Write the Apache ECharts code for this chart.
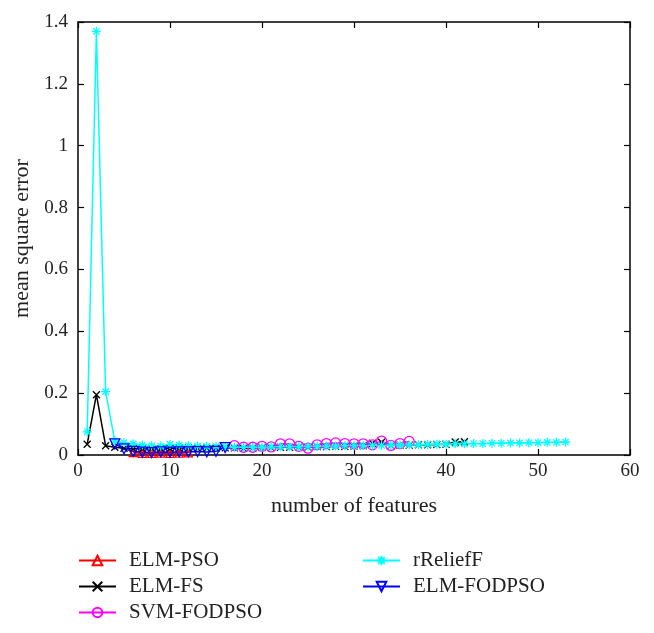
<!DOCTYPE html>
<html>
<head>
<meta charset="utf-8">
<style>html,body{margin:0;padding:0;background:#fff;}#c{width:654px;height:633px;}</style>
<script src="https://cdn.jsdelivr.net/npm/echarts@6/dist/echarts.min.js"></script>
</head>
<body>
<div id="c"></div>
<script>
// ---- data ----
const xTicks = [0, 10, 20, 30, 40, 50, 60];
const yTicks = [0, 0.2, 0.4, 0.6, 0.8, 1, 1.2, 1.4];

const elmPsoX = [6, 7, 8, 9, 10, 11, 12];
const elmPsoY = [0.008, 0.005, 0.005, 0.006, 0.005, 0.006, 0.007];

const elmFsX = [1,2,3,4,5,6,7,8,9,10,11,12,13,14,15,16,17,18,19,20,21,22,23,24,25,26,27,28,29,30,31,32,33,34,35,36,37,38,39,40,41,42];
const elmFsY = [0.035,0.195,0.03,0.025,0.022,0.02,0.02,0.021,0.02,0.021,0.022,0.022,0.021,0.022,0.022,0.023,0.023,0.022,0.023,0.024,0.024,0.025,0.025,0.026,0.026,0.027,0.027,0.028,0.028,0.029,0.03,0.038,0.041,0.031,0.032,0.032,0.033,0.033,0.034,0.035,0.042,0.043];

const svmX = [17,18,19,20,21,22,23,24,25,26,27,28,29,30,31,32,33,34,35,36];
const svmY = [0.03,0.025,0.025,0.028,0.026,0.036,0.036,0.028,0.022,0.033,0.037,0.039,0.037,0.036,0.036,0.033,0.045,0.031,0.037,0.044];

const reliefX = [1,2,3,4,5,6,7,8,9,10,11,12,13,14,15,16,17,18,19,20,21,22,23,24,25,26,27,28,29,30,31,32,33,34,35,36,37,38,39,40,41,42,43,44,45,46,47,48,49,50,51,52,53];
const reliefY = [0.075,1.37,0.205,0.045,0.04,0.036,0.032,0.03,0.029,0.034,0.032,0.03,0.029,0.028,0.028,0.027,0.025,0.025,0.025,0.025,0.026,0.027,0.027,0.027,0.028,0.028,0.029,0.029,0.03,0.03,0.03,0.031,0.031,0.032,0.032,0.033,0.033,0.034,0.035,0.035,0.036,0.036,0.037,0.037,0.038,0.038,0.039,0.039,0.04,0.04,0.041,0.041,0.042];

const fodpsoX = [4,5,6,7,8,9,10,11,12,13,14,15,16];
const fodpsoY = [0.036,0.02,0.012,0.009,0.008,0.01,0.009,0.01,0.01,0.011,0.01,0.012,0.024];

const seriesNames = ['ELM-PSO', 'ELM-FS', 'SVM-FODPSO', 'rReliefF', 'ELM-FODPSO'];
const xLabel = 'number of features';
const yLabel = 'mean square error';

// ---- chart ----
const FONT = '"Liberation Serif", "DejaVu Serif", serif';
const pair = (xs, ys) => xs.map((x, i) => [x, ys[i]]);

const SYM_X = 'path://M0,0L10,10M10,0L0,10';
const SYM_AST = 'path://M5,0L5,10M0,5L10,5M1.5,1.5L8.5,8.5M8.5,1.5L1.5,8.5';
const SYM_UP = 'path://M5,0L10,9L0,9Z';
const SYM_DOWN = 'path://M0,0L10,0L5,9Z';
const SYM_CIRC = 'path://M10,5A5,5,0,1,1,0,5A5,5,0,1,1,10,5Z';

function mk(name, data, color, symbol, size) {
  return {
    name: name, type: 'line', data: data,
    symbol: symbol, symbolSize: size, showAllSymbol: true,
    lineStyle: { color: color, width: 1.5 },
    itemStyle: { color: 'rgba(0,0,0,0)', borderColor: color, borderWidth: 1.3 },
    emphasis: { disabled: true },
    z: 2
  };
}

const chart = echarts.init(document.getElementById('c'), null, { renderer: 'canvas' });
const axisCommon = {
  type: 'value',
  axisLine: { show: true, onZero: false, lineStyle: { color: '#000', width: 1.5 } },
  axisTick: { show: true, inside: true, length: 6, lineStyle: { color: '#000', width: 1.2 } },
  splitLine: { show: false },
};
chart.setOption({
  animation: false,
  backgroundColor: '#fff',
  grid: { left: 78, right: 24, top: 22, bottom: 178 },
  xAxis: [
    Object.assign({}, axisCommon, {
      min: xTicks[0], max: xTicks[xTicks.length - 1], interval: 10,
      name: xLabel, nameLocation: 'middle', nameGap: 40,
      nameTextStyle: { fontFamily: FONT, fontSize: 22, color: '#222' },
      axisLabel: { fontFamily: FONT, fontSize: 19, color: '#222', margin: 7 }
    }),
    Object.assign({}, axisCommon, {
      position: 'top', min: xTicks[0], max: xTicks[xTicks.length - 1], interval: 10,
      axisLabel: { show: false }
    })
  ],
  yAxis: [
    Object.assign({}, axisCommon, {
      min: yTicks[0], max: yTicks[yTicks.length - 1], interval: 0.2,
      name: yLabel, nameLocation: 'middle', nameGap: 45,
      nameTextStyle: { fontFamily: FONT, fontSize: 22, color: '#222' },
      axisLabel: { fontFamily: FONT, fontSize: 19, color: '#222', margin: 10,
        formatter: v => String(Math.round(v * 10) / 10) }
    }),
    Object.assign({}, axisCommon, {
      position: 'right', min: yTicks[0], max: yTicks[yTicks.length - 1], interval: 0.2,
      axisLabel: { show: false }
    })
  ],
  legend: [
    {
      data: [seriesNames[0], seriesNames[1], seriesNames[2]],
      orient: 'vertical', left: 73, top: 545, itemGap: 5,
      itemWidth: 37, itemHeight: 12,
      textStyle: { fontFamily: FONT, fontSize: 21, color: '#222', lineHeight: 21, padding: [0, 0, 0, 8] },
      selectedMode: false
    },
    {
      data: [seriesNames[3], seriesNames[4]],
      orient: 'vertical', left: 357, top: 545, itemGap: 5,
      itemWidth: 37, itemHeight: 12,
      textStyle: { fontFamily: FONT, fontSize: 21, color: '#222', lineHeight: 21, padding: [0, 0, 0, 8] },
      selectedMode: false
    }
  ],
  series: [
    mk(seriesNames[0], pair(elmPsoX, elmPsoY), '#ff0000', SYM_UP, 8),
    mk(seriesNames[1], pair(elmFsX, elmFsY), '#000000', SYM_X, 7),
    mk(seriesNames[2], pair(svmX, svmY), '#ff00ff', SYM_CIRC, 10),
    mk(seriesNames[3], pair(reliefX, reliefY), '#00ffff', SYM_AST, 9),
    mk(seriesNames[4], pair(fodpsoX, fodpsoY), '#0000ff', SYM_DOWN, 10)
  ]
});
</script>
</body>
</html>
